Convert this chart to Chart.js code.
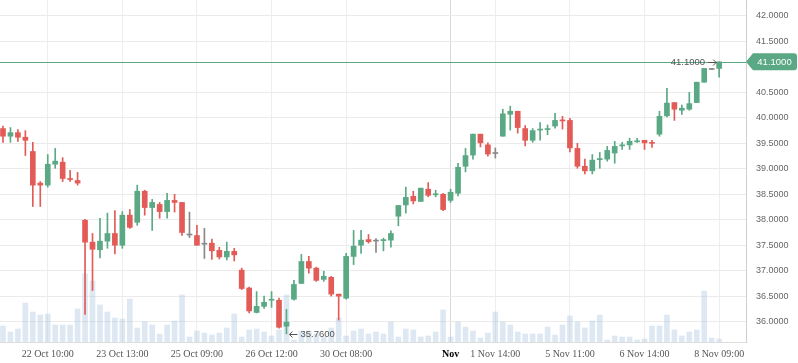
<!DOCTYPE html>
<html>
<head>
<meta charset="utf-8">
<script src="https://cdn.jsdelivr.net/npm/chart.js@4.4.1/dist/chart.umd.min.js"></script>
<style>
  html, body { margin: 0; padding: 0; background: #fff; }
</style>
</head>
<body>
<canvas id="priceChart" width="798" height="363"></canvas>
<script>
var opens = [39.79, 39.64, 39.71, 39.62, 39.34, 38.72, 38.68, 39.09, 39.13, 38.81,
    38.77, 37.99, 37.56, 37.41, 37.58, 37.73, 37.50, 38.09, 37.95, 38.56,
    38.24, 38.30, 38.16, 38.38, 38.34, 37.70, 37.69, 37.52, 37.54, 37.40,
    37.27, 37.38, 37.01, 36.66, 36.18, 36.30, 36.42, 36.42, 35.91, 36.44,
    36.75, 37.18, 37.05, 36.83, 36.87, 36.54, 36.46, 37.28, 37.50, 37.61,
    37.58, 37.59, 37.60, 38.07, 38.29, 38.46, 38.36, 38.60, 38.49, 38.50,
    38.38, 38.52, 39.05, 39.27, 39.68, 39.47, 39.30, 39.64, 40.07, 40.13,
    39.79, 39.56, 39.76, 39.77, 39.84, 39.96, 39.95, 39.40, 39.05, 38.96,
    39.18, 39.19, 39.31, 39.45, 39.47, 39.53, 39.56, 39.52, 39.68, 40.04,
    40.30, 40.15, 40.17, 40.30, 40.70, 40.95, 40.97];
var highs = [39.84, 39.81, 39.77, 39.75, 39.52, 38.75, 39.28, 39.40, 39.22, 38.97,
    38.93, 38.01, 37.73, 38.03, 38.13, 38.18, 38.16, 38.20, 38.68, 38.58,
    38.40, 38.34, 38.52, 38.50, 38.34, 38.15, 37.89, 37.83, 37.62, 37.46,
    37.56, 37.44, 37.05, 36.68, 36.59, 36.50, 36.59, 36.46, 36.24, 36.81,
    37.32, 37.28, 37.07, 36.99, 36.89, 36.54, 37.34, 37.79, 37.79, 37.71,
    37.63, 37.64, 37.78, 38.28, 38.64, 38.56, 38.62, 38.73, 38.58, 38.52,
    38.60, 39.11, 39.40, 39.68, 39.68, 39.51, 39.41, 40.17, 40.23, 40.13,
    39.85, 39.79, 39.91, 39.86, 40.09, 40.03, 39.99, 39.50, 39.19, 39.28,
    39.32, 39.44, 39.54, 39.52, 39.60, 39.60, 39.56, 39.56, 40.13, 40.58,
    40.30, 40.25, 40.50, 40.70, 40.97, 40.95, 41.10];
var lows = [39.52, 39.52, 39.54, 39.26, 38.26, 38.26, 38.64, 39.01, 38.75, 38.75,
    38.68, 36.14, 36.61, 37.25, 37.44, 37.33, 37.44, 37.83, 37.89, 38.09,
    37.79, 38.03, 38.03, 38.15, 37.69, 37.65, 37.50, 37.24, 37.22, 37.23,
    37.21, 37.19, 36.63, 36.17, 36.17, 36.26, 36.28, 35.87, 35.76, 36.42,
    36.75, 36.95, 36.79, 36.79, 36.50, 36.03, 36.44, 37.12, 37.34, 37.54,
    37.36, 37.39, 37.46, 37.88, 38.13, 38.31, 38.36, 38.45, 38.45, 38.18,
    38.34, 38.47, 38.94, 39.19, 39.43, 39.25, 39.21, 39.64, 39.76, 39.70,
    39.45, 39.52, 39.56, 39.67, 39.80, 39.78, 39.33, 39.01, 38.90, 38.90,
    39.01, 39.15, 39.11, 39.38, 39.38, 39.52, 39.38, 39.42, 39.64, 40.02,
    39.95, 40.07, 40.15, 40.30, 40.70, 40.95, 40.80];
var closes = [39.64, 39.71, 39.62, 39.56, 38.68, 38.68, 39.09, 39.15, 38.81, 38.79,
    38.72, 37.56, 37.42, 37.58, 37.73, 37.50, 38.09, 37.85, 38.56, 38.24,
    38.34, 38.16, 38.38, 38.34, 37.75, 37.70, 37.50, 37.52, 37.39, 37.27,
    37.38, 37.31, 36.65, 36.21, 36.30, 36.38, 36.44, 35.89, 35.99, 36.73,
    37.18, 37.05, 36.81, 36.89, 36.54, 36.50, 37.28, 37.48, 37.60, 37.57,
    37.58, 37.61, 37.73, 38.28, 38.44, 38.37, 38.62, 38.48, 38.51, 38.20,
    38.54, 39.03, 39.26, 39.68, 39.51, 39.29, 39.30, 40.08, 40.13, 39.81,
    39.56, 39.75, 39.78, 39.79, 39.95, 39.94, 39.41, 39.05, 38.96, 39.17,
    39.20, 39.36, 39.44, 39.47, 39.54, 39.55, 39.51, 39.50, 40.03, 40.29,
    40.17, 40.19, 40.28, 40.70, 40.97, 40.95, 41.10];
var volumes = [1600, 1000, 1300, 3900, 3000, 2700, 2800, 1700, 1700, 1700,
    3300, 6800, 6100, 3700, 3000, 2400, 2300, 4300, 1400, 2000,
    1700, 800, 1700, 2100, 4700, 500, 1100, 900, 700, 900,
    1400, 2800, 500, 1200, 1300, 1000, 600, 1200, 4700, 200,
    1100, 1100, 800, 500, 1400, 2400, 600, 1100, 1300, 800,
    1000, 800, 2000, 500, 1300, 1200, 500, 600, 1000, 3200,
    500, 2000, 1500, 1100, 400, 900, 3000, 2000, 1700, 1000,
    800, 800, 800, 1500, 700, 1700, 2600, 2000, 1400, 2100,
    2700, 200, 600, 500, 500, 200, 300, 1600, 1600, 2700,
    1200, 600, 1000, 1200, 5100, 400, 300];
var tickIndex = [6, 16, 26, 36, 46, 60, 66, 76, 86, 96];
var tickText = ['22 Oct 10:00', '23 Oct 13:00', '25 Oct 09:00', '26 Oct 12:00', '30 Oct 08:00',
    'Nov', '1 Nov 14:00', '5 Nov 11:00', '6 Nov 14:00', '8 Nov 09:00'];
var priceTicks = [36, 36.5, 37, 37.5, 38, 38.5, 39, 39.5, 40, 40.5, 41.5, 42];
var lastPrice = 41.10;

var upColor = '#5aa884';
var downColor = '#e25b56';
var flatColor = '#888888';

function candleColor(i) {
    if (closes[i] > opens[i]) return upColor;
    if (closes[i] < opens[i]) return downColor;
    return flatColor;
}

var idx = opens.map(function (_, i) { return i; });

function drawArrow(ctx, x1, x2, y) {
    // line from x1 to x2, head at x2
    var d = x2 > x1 ? -1 : 1;
    ctx.beginPath();
    ctx.moveTo(x1, y);
    ctx.lineTo(x2, y);
    ctx.moveTo(x2 + d * 3, y - 3);
    ctx.lineTo(x2, y);
    ctx.lineTo(x2 + d * 3, y + 3);
    ctx.stroke();
}

function noPadding(scale) {
    scale.paddingTop = 0;
    scale.paddingBottom = 0;
    scale.paddingLeft = 0;
    scale.paddingRight = 0;
}

var markers = {
    id: 'markers',
    beforeDatasetsDraw: function (chart) {
        var ctx = chart.ctx, area = chart.chartArea;
        var y = Math.round(chart.scales.y.getPixelForValue(lastPrice)) + 0.5;
        ctx.save();
        ctx.strokeStyle = upColor;
        ctx.lineWidth = 1;
        ctx.beginPath();
        ctx.moveTo(area.left, y);
        ctx.lineTo(area.right, y);
        ctx.stroke();
        ctx.restore();
    },
    afterDraw: function (chart) {
        var ctx = chart.ctx, area = chart.chartArea;
        var xs = chart.scales.x, ys = chart.scales.y;
        var y = ys.getPixelForValue(lastPrice);
        var x0 = area.right, x1 = chart.width - 1;
        ctx.save();
        // price badge
        ctx.fillStyle = upColor;
        ctx.beginPath();
        ctx.moveTo(x0, y);
        ctx.lineTo(x0 + 7, y - 8.5);
        ctx.lineTo(x1 - 3, y - 8.5);
        ctx.quadraticCurveTo(x1, y - 8.5, x1, y - 5.5);
        ctx.lineTo(x1, y + 5.5);
        ctx.quadraticCurveTo(x1, y + 8.5, x1 - 3, y + 8.5);
        ctx.lineTo(x0 + 7, y + 8.5);
        ctx.closePath();
        ctx.fill();
        ctx.fillStyle = '#ffffff';
        ctx.font = '9.5px "Liberation Sans", Arial, sans-serif';
        ctx.textAlign = 'center';
        ctx.textBaseline = 'middle';
        ctx.fillText(lastPrice.toFixed(4), (x0 + x1) / 2 + 3, y + 0.5);

        // highest high / lowest low
        var hi = 0, lo = 0;
        for (var i = 1; i < highs.length; i++) {
            if (highs[i] >= highs[hi]) hi = i;
            if (lows[i] < lows[lo]) lo = i;
        }
        ctx.strokeStyle = '#555';
        ctx.fillStyle = '#555';
        ctx.lineWidth = 1;
        ctx.font = '9.5px "Liberation Sans", Arial, sans-serif';

        var hx = xs.getPixelForValue(hi), hy = Math.round(ys.getPixelForValue(highs[hi])) + 0.5;
        drawArrow(ctx, hx - 11, hx - 3, hy);
        ctx.textAlign = 'right';
        ctx.fillText(highs[hi].toFixed(4), hx - 14, hy);

        var lx = xs.getPixelForValue(lo), ly = Math.round(ys.getPixelForValue(lows[lo])) + 0.5;
        drawArrow(ctx, lx + 11, lx + 3, ly);
        ctx.textAlign = 'left';
        ctx.fillText(lows[lo].toFixed(4), lx + 14, ly);
        ctx.restore();
    }
};

var ctx = document.getElementById('priceChart').getContext('2d');
new Chart(ctx, {
    type: 'bar',
    data: {
        datasets: [{
            label: 'Volume',
            yAxisID: 'yVol',
            data: idx.map(function (i) { return { x: i, y: volumes[i] }; }),
            backgroundColor: 'rgba(160,190,220,0.35)',
            barThickness: 5,
            grouped: false,
            order: 3
        }, {
            label: 'Range',
            yAxisID: 'y',
            data: idx.map(function (i) { return { x: i, y: [lows[i], highs[i]] }; }),
            backgroundColor: function (c) { return candleColor(c.dataIndex); },
            barThickness: 1,
            minBarLength: 1,
            grouped: false,
            order: 2
        }, {
            label: 'Body',
            yAxisID: 'y',
            data: idx.map(function (i) { return { x: i, y: [opens[i], closes[i]] }; }),
            backgroundColor: function (c) { return candleColor(c.dataIndex); },
            barThickness: 5,
            minBarLength: 1,
            grouped: false,
            order: 1
        }]
    },
    options: {
        responsive: false,
        animation: false,
        devicePixelRatio: 1,
        layout: { padding: 0, autoPadding: false },
        plugins: {
            legend: { display: false },
            tooltip: { enabled: false }
        },
        scales: {
            x: {
                type: 'linear',
                min: -0.4,
                max: 99.6,
                offset: false,
                grid: {
                    offset: false,
                    drawTicks: false,
                    color: function (c) { return tickText[c.index] === 'Nov' ? '#d9d9d9' : '#eeeeee'; }
                },
                border: { color: '#dddddd' },
                afterBuildTicks: function (scale) {
                    scale.ticks = tickIndex.map(function (v) { return { value: v }; });
                },
                afterFit: function (scale) { scale.height = 21; noPadding(scale); },
                ticks: {
                    autoSkip: false,
                    maxRotation: 0,
                    padding: 6,
                    callback: function (v, i) { return tickText[i]; },
                    color: function (c) { return tickText[c.index] === 'Nov' ? '#000000' : '#555555'; },
                    font: function (c) {
                        return tickText[c.index] === 'Nov'
                            ? { family: '"Liberation Serif", serif', size: 10, weight: 'bold' }
                            : { family: '"Liberation Serif", serif', size: 10 };
                    }
                }
            },
            y: {
                position: 'right',
                min: 35.6,
                max: 42.314,
                grid: { color: '#ebebeb', drawTicks: false },
                border: { color: '#cfcfcf' },
                afterBuildTicks: function (scale) {
                    scale.ticks = priceTicks.map(function (v) { return { value: v }; });
                },
                afterFit: function (scale) { scale.width = 52; noPadding(scale); },
                ticks: {
                    padding: 10,
                    color: '#666666',
                    font: { family: '"Liberation Sans", Arial, sans-serif', size: 9 },
                    callback: function (v) { return Number(v).toFixed(4); }
                }
            },
            yVol: {
                display: false,
                min: 0,
                max: 34200,
                afterFit: noPadding
            }
        }
    },
    plugins: [markers]
});
</script>
</body>
</html>
